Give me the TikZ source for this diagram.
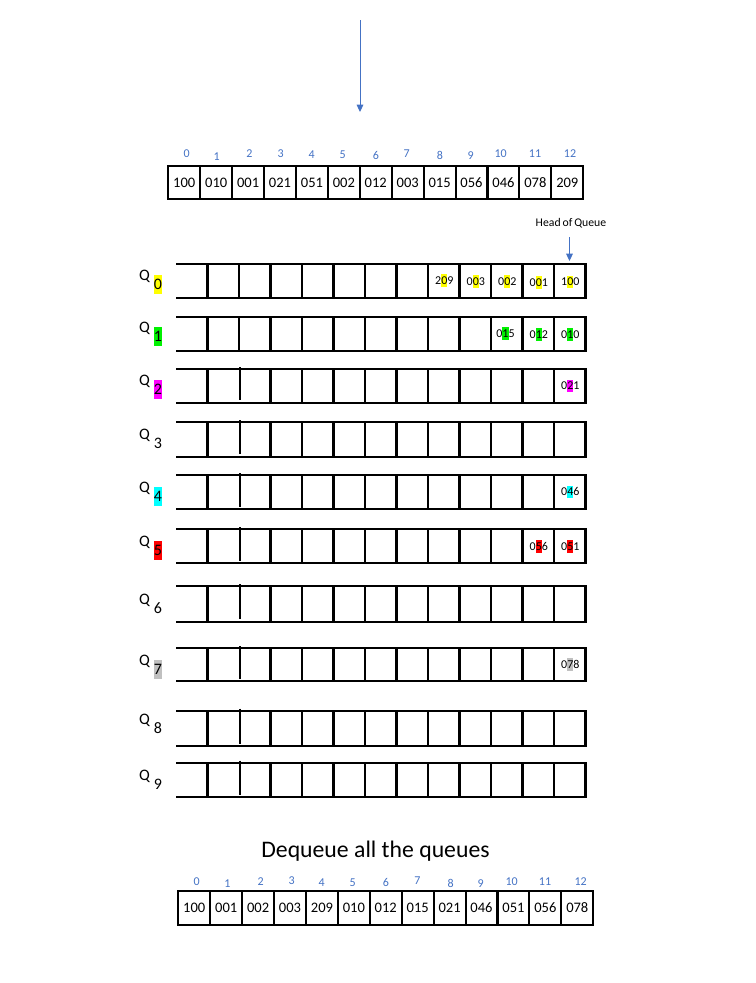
\documentclass[tikz,border=0pt]{standalone}
\usepackage{fontspec}
\setmainfont{Carlito}
\usetikzlibrary{arrows.meta}
\definecolor{idxblue}{RGB}{68,114,196}
\definecolor{hlyellow}{RGB}{255,255,0}
\definecolor{hlgreen}{RGB}{0,240,0}
\definecolor{hlmagenta}{RGB}{255,0,255}
\definecolor{hlcyan}{RGB}{0,255,255}
\definecolor{hlred}{RGB}{255,0,0}
\definecolor{hlgray}{RGB}{192,192,192}
\newcommand\hlchar[2]{{\setlength{\fboxsep}{0pt}\colorbox{#1}{\rule[-0.2em]{0pt}{1.03em}#2}}}
\newcommand\hlsub[2]{{\setlength{\fboxsep}{0pt}\colorbox{#1}{\rule[-0.29em]{0pt}{1.24em}#2}}}
\newcommand\plainsub[1]{\rule[-0.29em]{0pt}{1.24em}#1}
\tikzset{
  cellbox/.style={draw, line width=1.6pt, minimum width=23.94pt, minimum height=25pt, inner sep=0pt, font=\fontsize{10.9}{12}\selectfont},
  idx/.style={text=idxblue, font=\fontsize{9}{10}\selectfont, inner sep=0pt},
  qline/.style={line width=1.6pt, line join=miter},
  qitem/.style={font=\fontsize{9}{10}\selectfont, inner sep=0pt},
  qlabel/.style={font=\fontsize{12}{14}\selectfont, inner sep=0pt},
  blarrow/.style={draw=idxblue, line width=0.75pt, -{Triangle[length=5.5pt,width=5pt]}},
  headtext/.style={font=\fontsize{8.8}{10}\selectfont, inner sep=0pt},
  titletext/.style={font=\fontsize{17.8}{20}\selectfont, inner sep=0pt}
}
\begin{document}
\begin{tikzpicture}[x=0.75pt,y=-0.75pt]
\useasboundingbox (0,0) rectangle (756,983);
% incoming arrow
\coordinate (topstart) at (360,20);
\coordinate (topend) at (360,112);
\draw[blarrow] (topstart) -- (topend);
% top array
\foreach \val [count=\i from 0] in {100,010,001,021,051,002,012,003,015,056,046,078,209} {
  \node[cellbox] (t\i) at ({168.3+31.92*(\i+0.5)},182.7) {\val};
}
\foreach \xx/\yy [count=\i from 0] in {186.7/154,216.7/156.7,249.3/154,280.7/153.5,311.7/155,342.7/155,376/155.5,406.7/154,440/155.7,470.7/155.7,500.7/154,535/154,570/154} {
  \node[idx] (ti\i) at (\xx,\yy) {\i};
}
% head of queue
\node[headtext] (head) at (571,222.7) {Head\,of\,Queue};
\coordinate (headA) at (569.5,237);
\coordinate (headB) at (569.5,261);
\draw[blarrow] (headA) -- (headB);
% queue rows
\foreach \tp/\bt [count=\r from 0] in {264.3/298.3,316.7/351,369/402.7,422.3/456.7,475/509,529/563.3,586/621.7,648.3/681,710.7/746,762.7/797.3} {
  \draw[qline] (176,\tp) -- (585.5,\tp) -- (585.5,\bt) -- (176,\bt);
  \foreach \k in {1,3,4,5,6,7,8,9,10,11,12} {
    \draw[qline] ({176+31.5*\k},\tp) -- ({176+31.5*\k},\bt);
  }
  \ifnum\r<2
    \draw[qline] (239,\tp) -- (239,\bt);
  \else
    \draw[qline] (240,{\tp-2}) -- (240,{\bt-2.5});
  \fi
}
% queue labels
\foreach \yq/\lab [count=\r from 0] in {276/\hlsub{hlyellow}{0},328/\hlsub{hlgreen}{1},381/\hlsub{hlmagenta}{2},435/\plainsub{3},488/\hlsub{hlcyan}{4},542/\hlsub{hlred}{5},600/\plainsub{6},661/\hlsub{hlgray}{7},720/\plainsub{8},776/\plainsub{9}} {
  \node[qlabel] (Q\r) at (144.5,\yq) {Q};
  \node[qlabel] (Qs\r) at (158,{\yq+8.5}) {\lab};
}
% queue items
\node[qitem] (q0a) at (444.3,280.5) {2\hlchar{hlyellow}{0}9};
\node[qitem] (q0b) at (475.8,281.5) {0\hlchar{hlyellow}{0}3};
\node[qitem] (q0c) at (507.3,281.5) {0\hlchar{hlyellow}{0}2};
\node[qitem] (q0d) at (538.8,282.5) {0\hlchar{hlyellow}{0}1};
\node[qitem] (q0e) at (570.3,282) {1\hlchar{hlyellow}{0}0};
\node[qitem] (q1a) at (505.5,333.5) {0\hlchar{hlgreen}{1}5};
\node[qitem] (q1b) at (538.8,334.5) {0\hlchar{hlgreen}{1}2};
\node[qitem] (q1c) at (570.3,334.5) {0\hlchar{hlgreen}{1}0};
\node[qitem] (q2a) at (570.3,386) {0\hlchar{hlmagenta}{2}1};
\node[qitem] (q4a) at (570.3,492) {0\hlchar{hlcyan}{4}6};
\node[qitem] (q5a) at (538.8,546.5) {0\hlchar{hlred}{5}6};
\node[qitem] (q5b) at (570.3,546.5) {0\hlchar{hlred}{5}1};
\node[qitem] (q7a) at (570.3,664.5) {0\hlchar{hlgray}{7}8};
% title
\node[titletext] (title) at (375.5,851.5) {Dequeue all the queues};
% bottom array
\foreach \val [count=\i from 0] in {100,001,002,003,209,010,012,015,021,046,051,056,078} {
  \node[cellbox] (b\i) at ({178.3+31.92*(\i+0.5)},908) {\val};
}
\foreach \xx/\yy [count=\i from 0] in {196.7/881.7,227.3/884,260.7/881.7,291.7/880.7,321.7/882.7,352.7/882.7,386/882.7,417.3/880.7,450.7/883.3,480.7/883.3,511.7/881.7,545/881.7,580.7/881.7} {
  \node[idx] (bi\i) at (\xx,\yy) {\i};
}
\end{tikzpicture}
\end{document}
